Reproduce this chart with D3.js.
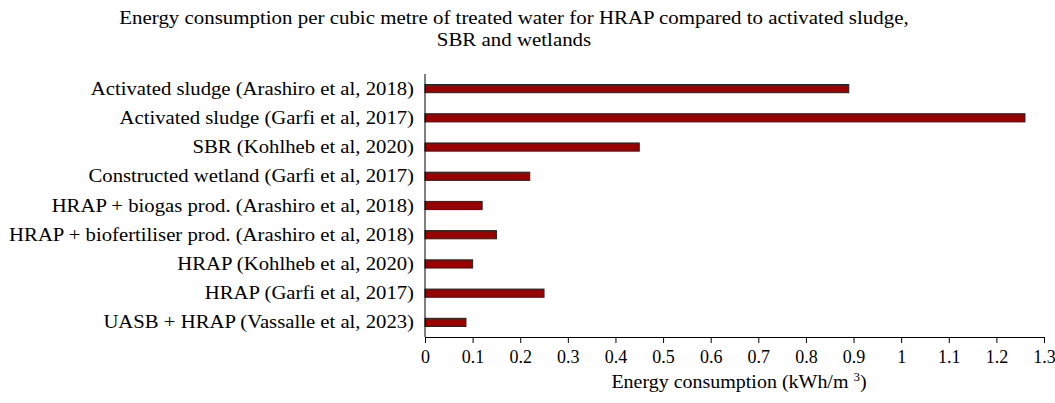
<!DOCTYPE html>
<html><head><meta charset="utf-8">
<script src="https://cdn.jsdelivr.net/npm/d3@7"></script>
<style>body{margin:0;background:#fff}svg{display:block}text{font-family:"Liberation Serif","Times New Roman",serif;fill:#000}</style>
</head><body><svg width="1055" height="403"></svg>
<script>
const categories = [
  "Activated sludge (Arashiro et al, 2018)",
  "Activated sludge (Garfi et al, 2017)",
  "SBR (Kohlheb et al, 2020)",
  "Constructed wetland (Garfi et al, 2017)",
  "HRAP + biogas prod. (Arashiro et al, 2018)",
  "HRAP + biofertiliser prod. (Arashiro et al, 2018)",
  "HRAP (Kohlheb et al, 2020)",
  "HRAP (Garfi et al, 2017)",
  "UASB + HRAP (Vassalle et al, 2023)"
];
const values = [0.89, 1.26, 0.45, 0.22, 0.12, 0.15, 0.10, 0.25, 0.086];
const xTicks = [0,0.1,0.2,0.3,0.4,0.5,0.6,0.7,0.8,0.9,1,1.1,1.2,1.3];
const titleLines = ["Energy consumption per cubic metre of treated water for HRAP compared to activated sludge,", "SBR and wetlands"];

const svg = d3.select("svg");
const L = 425, R = 1044, T = 74, B = 337;
const x = d3.scaleLinear().domain([0,1.3]).range([L,R]);
const y = d3.scaleBand().domain(categories).range([T,B]).paddingInner(0.72).paddingOuter(0.36);

function stretch(sel, k){
  sel.each(function(){
    const w = this.getComputedTextLength();
    d3.select(this).attr("textLength", w*k).attr("lengthAdjust","spacingAndGlyphs");
  });
}

const tt = svg.append("g").selectAll("text").data(titleLines).join("text")
  .attr("x", 514).attr("y", (d,i)=>24+i*22).attr("text-anchor","middle")
  .style("font-size","19px").text(d=>d);
stretch(tt, 1.1);

svg.append("g").selectAll("rect").data(values).join("rect")
  .attr("x", x(0)).attr("y",(d,i)=>y(categories[i]))
  .attr("width", d=>x(d)-x(0)).attr("height", y.bandwidth())
  .attr("fill","#990000").attr("stroke","#222").attr("stroke-width",1);

const xa = svg.append("g").attr("transform",`translate(0,${B})`)
  .call(d3.axisBottom(x).tickValues(xTicks).tickFormat(d3.format("~g")).tickSize(6).tickSizeOuter(0));
xa.select(".domain").attr("stroke","#000");
xa.selectAll(".tick line").attr("stroke","#000");
xa.selectAll("text").style("font-size","18px").style("font-family",'"Liberation Serif",serif').attr("y",12).attr("dy","0.8em");

const ya = svg.append("g").attr("transform",`translate(${L},0)`)
  .call(d3.axisLeft(y).tickSize(0).tickPadding(11));
ya.select(".domain").attr("stroke","#000").attr("d",`M0,${T}V${B}`);
const yl = ya.selectAll("text").style("font-size","19px").style("font-family",'"Liberation Serif",serif');
stretch(yl, 1.09);

const at = svg.append("text").attr("x", 739).attr("y", 388).attr("text-anchor","middle").style("font-size","18.5px")
  .attr("transform","translate(739,0) scale(1.08,1) translate(-739,0)");
at.append("tspan").text("Energy consumption (kWh/m ");
at.append("tspan").attr("dy",-7).style("font-size","12px").text("3");
at.append("tspan").attr("dy",7).text(")");
</script></body></html>
